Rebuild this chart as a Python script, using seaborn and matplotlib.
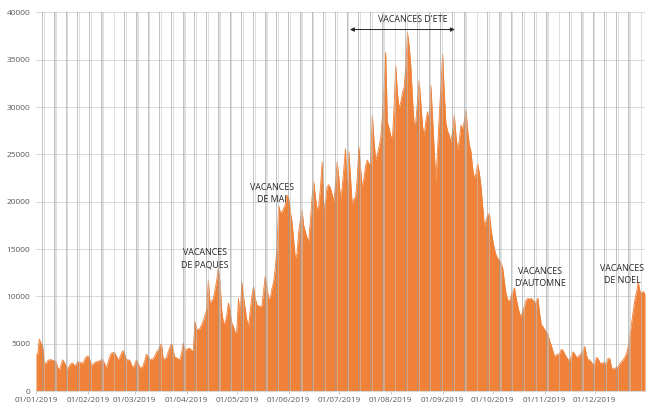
import numpy as np
import pandas as pd
import seaborn as sns
import matplotlib.pyplot as plt

# valeurs journalières 2019
jan = [3800, 3900, 5500, 5000, 4700, 2900, 2900, 3200, 3300, 3300, 3250, 3200, 3100, 2500, 2200, 2800,
       3300, 3000, 2600, 2300, 2700, 2900, 2950, 2650, 2800, 3100, 3000, 3000, 2900, 3300, 3600]
fev = [3700, 3400, 2800, 2750, 3000, 3100, 3100, 3200, 3300, 3300, 2900, 2400, 3000, 3600, 4000, 4050,
       4050, 3700, 3300, 3500, 4000, 4250, 3900, 3300, 3300, 3250, 2800, 2400]
mar = [2800, 3300, 3000, 2500, 2400, 2700, 3200, 3900, 3600, 3350, 3350, 3400, 3700, 4100, 4300, 4700,
       5000, 3400, 3400, 3500, 4150, 4600, 5000, 4300, 3550, 3500, 3400, 3300, 4000, 5050, 4300]
avr = [4400, 4500, 4500, 4300, 4300, 7300, 6500, 6500, 6600, 7000, 7400, 8000, 8600, 11700, 9250, 9500,
       9800, 10700, 11700, 13000, 11500, 8500, 7200, 7200, 8000, 9300, 8400, 7200, 6800, 6100]
mai = [6400, 9800, 7800, 11500, 10000, 8700, 7500, 6800, 8500, 10000, 11000, 9800, 9100, 9000, 8900, 9000,
       10500, 12100, 11000, 9800, 9800, 10800, 11500, 13000, 15000, 19600, 18900, 18900, 19300, 19700, 20700]
juin = [20400, 19000, 17900, 16000, 14000, 14500, 16800, 18000, 19100, 17500, 16800, 16200, 15800, 18000,
        20500, 22100, 20500, 19100, 19600, 21500, 24200, 19300, 20000, 21600, 21800, 21400, 20800, 20000,
        21800, 24200]
juil = [22500, 20300, 21500, 23500, 25600, 20700, 25300, 22500, 19650, 20300, 20500, 22500, 25800, 23500,
        21400, 22500, 23800, 24400, 24000, 23900, 29150, 26500, 24400, 25000, 25800, 26700, 29000, 32000,
        35800, 28400, 27800]
aout = [27000, 26500, 30000, 34400, 31500, 29850, 30500, 31500, 32100, 34000, 37900, 36500, 34400, 31000,
        28100, 28500, 30500, 32800, 30500, 28000, 27000, 28500, 29500, 28400, 32300, 29000, 25500, 22100,
        25500, 29150, 32000]
sept = [35650, 31500, 28300, 27500, 27000, 26300, 27500, 29150, 27000, 25450, 26500, 28100, 27700, 28500,
        29700, 27500, 26000, 25300, 23500, 22450, 23000, 24000, 23000, 21600, 19500, 17350, 18000, 18600,
        18750, 17000]
octo = [15950, 15000, 14350, 14000, 13800, 13500, 12950, 11500, 10200, 9600, 9500, 10000, 10500, 10900,
        9800, 8900, 8200, 7800, 8550, 9000, 9600, 9800, 9700, 9800, 9600, 9300, 9500, 9800, 8200, 7000, 6800]
nov = [6500, 6200, 6000, 5300, 4800, 4200, 3600, 3800, 3900, 4000, 4400, 4300, 3900, 3600, 3300, 3250,
       3700, 4150, 3900, 3600, 3600, 3800, 4000, 4300, 4700, 3800, 3250, 3300, 3000, 2800]
dec = [2900, 3550, 3400, 3000, 2900, 3000, 2950, 3000, 3450, 3400, 2500, 2300, 2400, 2500, 2600, 2900,
       3100, 3300, 3600, 4000, 4700, 6000, 7200, 8500, 9700, 10500, 11500, 10500, 10400, 10500, 10300]

valeurs = jan + fev + mar + avr + mai + juin + juil + aout + sept + octo + nov + dec
dates = pd.date_range("2019-01-01", "2019-12-31", freq="D")

y_max = 40000
y_ticks = list(range(0, 40001, 5000))
mois_labels = ["01/01/2019", "01/02/2019", "01/03/2019", "01/04/2019", "01/05/2019", "01/06/2019",
               "01/07/2019", "01/08/2019", "01/09/2019", "01/10/2019", "01/11/2019", "01/12/2019"]

df = pd.DataFrame({"jour": np.arange(len(dates)), "date": dates, "valeur": valeurs})
df["samedi"] = df["date"].dt.dayofweek == 5
df["dimanche"] = df["date"].dt.dayofweek == 6

sns.set_theme(style="white")
plt.rcParams['font.family'] = ['Open Sans', 'DejaVu Sans']

fig = plt.figure(figsize=(6.46, 4.11), dpi=100)
ax = fig.add_axes([36 / 646, 20 / 411, 609 / 646, 378.5 / 411])

orange = "#EF8139"
ax.fill_between(df["jour"], df["valeur"], color=orange, lw=0, zorder=2)
sns.lineplot(data=df, x="jour", y="valeur", color=orange, lw=0.6, ax=ax, zorder=3)

# bandes grises des week-ends
sam = df[df["samedi"]]
dim = df[df["dimanche"]]
ax.bar(sam["jour"], y_max, width=0.55, color="#969b9b", alpha=0.6, lw=0, zorder=4)
ax.bar(dim["jour"], y_max, width=0.75, color="#c3c7c7", alpha=0.55, lw=0, zorder=4)

ax.set_xlim(0, len(df) - 1)
ax.set_ylim(0, y_max)
ax.set_yticks(y_ticks)
ax.set_yticklabels([str(t) for t in y_ticks], fontsize=6, color="#595959")
debuts = df.loc[df["date"].dt.day == 1, "jour"].tolist()
ax.set_xticks(debuts)
ax.set_xticklabels(mois_labels, fontsize=5.9, color="#595959")
ax.tick_params(axis="x", length=2.5, width=0.6, color="#bfbfbf", pad=2, bottom=True)
ax.tick_params(axis="y", length=0, pad=4)
ax.grid(axis="y", color="#d9d9d9", lw=0.7, zorder=1)
ax.set_axisbelow(True)
for s in ["top", "right", "left"]:
    ax.spines[s].set_visible(False)
ax.spines["bottom"].set_color("#d9d9d9")
ax.spines["bottom"].set_linewidth(0.8)
ax.set_xlabel("")
ax.set_ylabel("")

txt = dict(fontsize=6.4, color="#262626", ha="center", va="center", zorder=6, linespacing=1.45)
ax.text(101, 14000, "VACANCES\nDE PAQUES", **txt)
ax.text(141, 20900, "VACANCES\nDE MAI", **txt)
ax.text(225, 39300, "VACANCES D'ETE", **txt)
ax.annotate("", xy=(186, 38200), xytext=(252, 38200),
            arrowprops=dict(arrowstyle="<|-|>", color="#262626", lw=0.7, mutation_scale=6), zorder=6)
ax.text(301, 12000, "VACANCES\nD'AUTOMNE", **txt)
ax.text(350.5, 12300, "VACANCES\nDE NOEL", **txt)

plt.savefig("out.png", dpi=100)
